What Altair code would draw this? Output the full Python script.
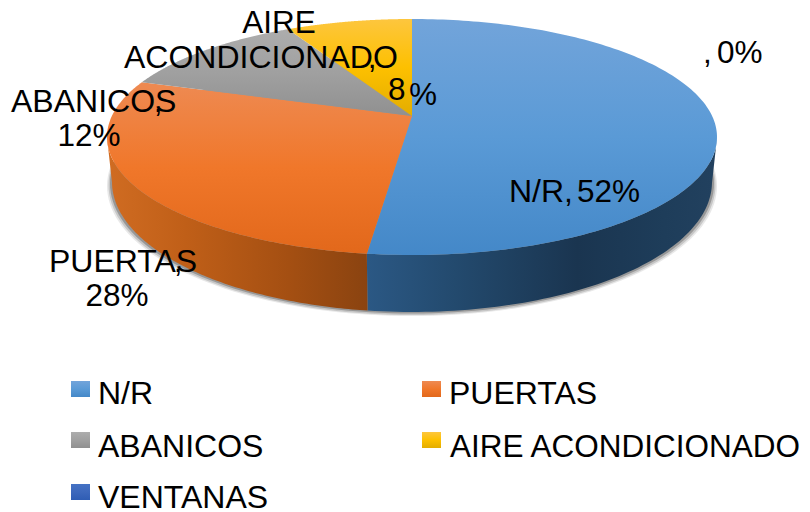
import math
import altair as alt
import pandas as pd

# ---- chart values
categories = ["N/R", "VENTANAS", "PUERTAS", "ABANICOS", "AIRE ACONDICIONADO"]
percents = [52, 0, 28, 12, 8]

# ---- colours (top stops per slice)
top_stops = {
    "N/R": ["#72a4da", "#5a9ad6", "#4488c8"],
    "VENTANAS": ["#4472c4", "#3d68bc", "#2f5db4"],
    "PUERTAS": ["#ee8a52", "#f0772a", "#e2681b"],
    "ABANICOS": ["#adadad", "#a0a0a0", "#909090"],
    "AIRE ACONDICIONADO": ["#fdc63e", "#fdc000", "#e3ad00"],
}
wall_stops = {
    "N/R": [("#2b5884", 0), ("#234a6e", .25), ("#1a3550", .6), ("#1e3d5a", .85), ("#22415f", 1)],
    "PUERTAS": [("#d06c22", 0), ("#c05f18", .3), ("#a44f12", .7), ("#8a4310", 1)],
}

# ---- drawing geometry (image pixels)
OFF = 8
apex = (412, 116)
squash = 0.385
c_top = (412, 137, 305, 118)
c_low = (412, 182, 300, 130)


def rim(frac):
    th = 2 * math.pi * frac
    dx, dy = math.sin(th), -math.cos(th) * squash
    cx, cy, rx, ry = c_top
    px, py = (apex[0] - cx) / rx, (apex[1] - cy) / ry
    qx, qy = dx / rx, dy / ry
    a, b, c = qx**2 + qy**2, 2 * (px * qx + py * qy), px**2 + py**2 - 1
    t = (-b + math.sqrt(b * b - 4 * a * c)) / (2 * a)
    return apex[0] + t * dx, apex[1] + t * dy


def lower(p):
    u = max(-1, min(1, (p[0] - c_top[0]) / c_top[2]))
    return c_low[0] + u * c_low[2], c_low[1] + c_low[3] * math.sqrt(1 - u * u)


def shift(pts):
    return [[x - OFF, y - OFF] for x, y in pts]


def vgrad(cols):
    n = len(cols) - 1
    return alt.Gradient(gradient="linear", x1=0, x2=0, y1=0, y2=1,
                        stops=[alt.GradientStop(color=c, offset=i / n) for i, c in enumerate(cols)])


def hgrad(stops):
    return alt.Gradient(gradient="linear", x1=0, x2=1, y1=0, y2=0,
                        stops=[alt.GradientStop(color=c, offset=o) for c, o in stops])


def poly(pts, **mark):
    ring = shift(pts)
    ring.append(ring[0])
    feature = {"type": "Feature", "properties": {},
               "geometry": {"type": "Polygon", "coordinates": [ring]}}
    return alt.Chart(alt.Data(values=[feature])).mark_geoshape(strokeWidth=0, **mark).project(
        type="identity", scale=1, translate=[0, 0])


def ellipse(cx, cy, rx, ry):
    return [(cx + rx * math.cos(i * math.pi / 90), cy + ry * math.sin(i * math.pi / 90)) for i in range(180)]


layers = []
# soft shadow under the wall
for grow, drop, op in [(5, 4, .12), (3.5, 3, .2), (2, 1.5, .35)]:
    layers.append(poly(ellipse(c_low[0], c_low[1] + drop, c_low[2] + grow, c_low[3]), fill="#404040", opacity=op))

# slices
start = 0.0
spans = {}
for name, v in zip(categories, percents):
    spans[name] = (start, start + v / 100)
    start += v / 100

# side walls
for name, (a, b) in spans.items():
    if b - a <= 0:
        continue
    samples = [rim(a + (b - a) * i / 160) for i in range(161)]
    front = [p for p in samples if p[1] >= c_top[1]]
    if name not in wall_stops or not front:
        continue
    pts = front + [lower(p) for p in reversed(front)]
    layers.append(poly(pts, fill=hgrad(wall_stops[name])))

# top faces
for name, (a, b) in spans.items():
    if b - a <= 0:
        continue
    samples = [rim(a + (b - a) * i / 160) for i in range(161)]
    layers.append(poly([apex] + samples, fill=vgrad(top_stops[name])))

# ---- texts
name_text = pd.DataFrame({
    "t": ["ACONDICIONADO", "ABANICOS", "PUERTAS", "N/R,",
          "N/R", "ABANICOS", "VENTANAS", "PUERTAS"],
    "x": [124, 11, 49, 509, 98, 98, 98, 449],
    "y": [68, 112, 272, 202, 404, 457, 508, 404],
})
number_text = pd.DataFrame({
    "t": ["52%", ",", "0%", "8", "%", "AIRE ACONDICIONADO"],
    "x": [577, 703, 717, 388, 409, 450],
    "y": [202, 63, 63, 100, 105, 457],
})
center_text = pd.DataFrame({
    "t": ["AIRE", ",", ",", ",", "12%", "28%"],
    "x": [279, 372, 158, 178, 89, 117],
    "y": [33, 68, 112, 272, 146, 306],
})
for df, al, fs in [(name_text, "left", 32), (number_text, "left", 31.5), (center_text, "center", 31.5)]:
    df["x"] -= OFF
    df["y"] -= OFF
    layers.append(alt.Chart(df).mark_text(font="Liberation Sans", fontSize=fs, color="#000000", align=al,
                                          baseline="alphabetic").encode(
        x=alt.X("x:Q", scale=None), y=alt.Y("y:Q", scale=None), text="t:N"))

# ---- legend squares
leg = [("N/R", 71, 381), ("PUERTAS", 422, 381), ("ABANICOS", 71, 432),
       ("AIRE ACONDICIONADO", 422, 432), ("VENTANAS", 71, 484)]
for name, x0, y0 in leg:
    df = pd.DataFrame({"x": [x0 - OFF], "x2": [x0 - OFF + 19], "y": [y0 - OFF], "y2": [y0 - OFF + 16]})
    layers.append(alt.Chart(df).mark_rect(fill=vgrad(top_stops[name])).encode(
        x=alt.X("x:Q", scale=None), x2="x2:Q", y=alt.Y("y:Q", scale=None), y2="y2:Q"))

chart = alt.layer(*layers).properties(width=794, height=496, padding=0).configure_view(stroke=None)
chart.save("out.html", embed_options={"renderer": "svg", "actions": False})
